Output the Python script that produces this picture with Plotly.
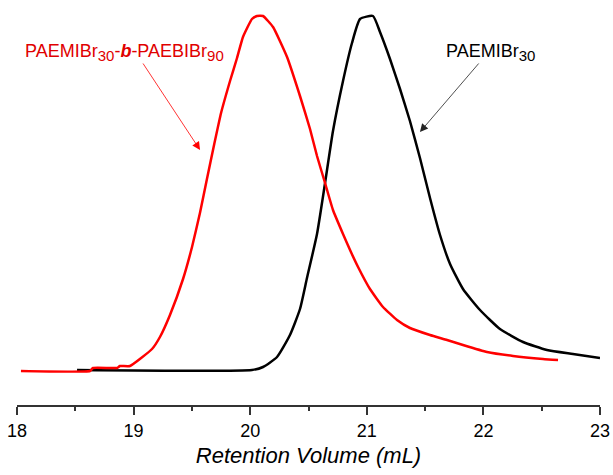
import plotly.graph_objects as go

# Block copolymer trace (red)
red_x = [18.034, 18.626, 18.652, 18.858, 18.883, 18.969, 19.158, 19.226, 19.312, 19.424,
         19.501, 19.569, 19.629, 19.690, 19.750, 19.827, 19.887, 19.938, 20.015, 20.058,
         20.110, 20.196, 20.316, 20.427, 20.513, 20.573, 20.642, 20.710, 20.796, 20.864,
         20.925, 21.027, 21.139, 21.259, 21.370, 21.542, 21.688, 21.825, 22.031, 22.254,
         22.511, 22.640]
red_y = [0, 0, 3, 3, 5, 5, 22, 34, 56, 92,
         124, 158, 192, 226, 258, 290, 313, 334, 352, 355,
         355, 344, 314, 275, 242, 215, 188, 161, 137, 119,
         104, 82, 64, 51, 43, 36, 31, 26, 19, 15,
         12, 11]

# Homopolymer trace (black)
black_x = [18.515, 20.015, 20.110, 20.230, 20.341, 20.427, 20.487, 20.573, 20.642, 20.710,
           20.796, 20.873, 20.942, 21.053, 21.113, 21.199, 21.285, 21.370, 21.456, 21.542,
           21.628, 21.714, 21.825, 21.971, 22.142, 22.340, 22.545, 22.768, 23.000]
black_y = [1, 1, 4, 14, 36, 62, 93, 137, 188, 240,
           290, 328, 352, 355, 339, 312, 282, 250, 213, 173,
           136, 107, 82, 61, 42, 29, 21, 17, 13]

tick_vals = [18, 19, 20, 21, 22, 23]
tick_text = ["18", "19", "20", "21", "22", "23"]

FONT = "Liberation Sans, Arial, sans-serif"
SUB = '<sub><span style="font-size:15px">{}</span></sub>'

fig = go.Figure()
fig.add_trace(go.Scatter(x=black_x, y=black_y, mode="lines",
                         line=dict(color="black", width=2.5, shape="spline", smoothing=0.5),
                         showlegend=False))
fig.add_trace(go.Scatter(x=red_x, y=red_y, mode="lines",
                         line=dict(color="#ff0000", width=2.5, shape="spline", smoothing=0.4),
                         showlegend=False))

# labels
fig.add_annotation(x=18.918, y=319, xref="x", yref="y", showarrow=False,
                   text="PAEMIBr" + SUB.format("30") + "-<i><b>b</b></i>-PAEBIBr" + SUB.format("90"),
                   font=dict(family=FONT, size=18, color="#e00000"))
fig.add_annotation(x=22.057, y=319, xref="x", yref="y", showarrow=False,
                   text="PAEMIBr" + SUB.format("30"),
                   font=dict(family=FONT, size=18, color="black"))
# arrows
fig.add_annotation(x=19.57, y=221, xref="x", yref="y", text="", showarrow=True,
                   ax=-58, ay=-88, arrowhead=2, arrowsize=2, arrowwidth=0.8,
                   arrowcolor="#ff0000")
fig.add_annotation(x=21.456, y=239, xref="x", yref="y", text="", showarrow=True,
                   ax=60, ay=-70, arrowhead=2, arrowsize=2, arrowwidth=0.8,
                   arrowcolor="#222222")

fig.update_layout(
    width=613, height=475,
    margin=dict(l=17, r=13, t=5, b=70),
    plot_bgcolor="white", paper_bgcolor="white",
    font=dict(family=FONT, color="black"),
    xaxis=dict(range=[18, 23], tickvals=tick_vals, ticktext=tick_text,
               automargin=False,
               ticks="outside", ticklen=8, tickwidth=2, tickcolor="#333333",
               showline=True, linewidth=2, linecolor="#333333",
               showgrid=False, zeroline=False,
               tickfont=dict(family=FONT, size=18, color="black"),
               minor=dict(dtick=0.5, tick0=18, ticks="outside", ticklen=4,
                          tickwidth=2, tickcolor="#333333", showgrid=False),
               title=dict(text="<i>Retention Volume (mL)</i>",
                          font=dict(family=FONT, size=22, color="black"),
                          standoff=8)),
    yaxis=dict(range=[-34, 366], visible=False, showgrid=False, zeroline=False),
)

fig.write_html("out.html", config={"displayModeBar": False},
               post_script="document.body.style.margin='0';document.body.style.padding='0';")
